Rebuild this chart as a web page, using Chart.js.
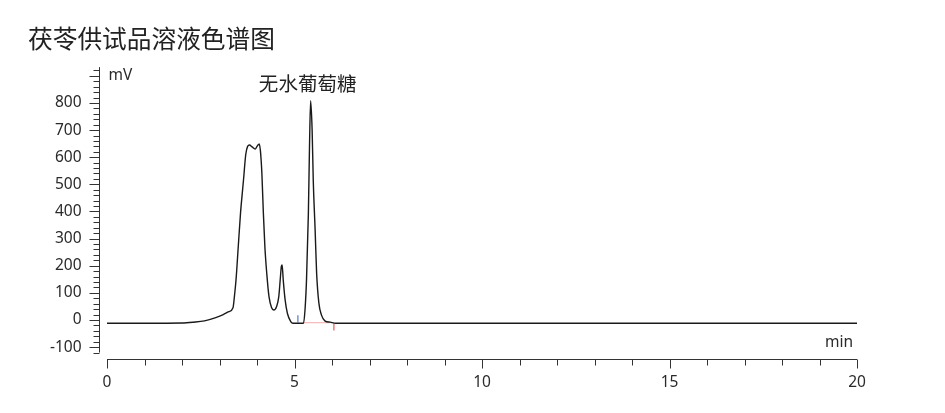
<!DOCTYPE html>
<html>
<head>
<meta charset="utf-8">
<script src="https://cdn.jsdelivr.net/npm/chart.js@4.4.0/dist/chart.umd.min.js"></script>
<style>
    html, body { margin: 0; padding: 0; background: #fff; }
</style>
</head>
<body>
<canvas id="myChart" width="945" height="413"></canvas>
<script>
// chromatogram trace (min, mV)
var retentionTimes = [0, 1.0, 2.0, 2.3, 2.6, 2.9, 3.1, 3.25, 3.36, 3.40, 3.44, 3.50, 3.56, 3.64, 3.70, 3.75, 3.80, 3.87, 3.95, 4.01, 4.06, 4.09, 4.11, 4.13, 4.17, 4.21, 4.26, 4.32, 4.39, 4.45, 4.52, 4.58, 4.62, 4.65, 4.67, 4.70, 4.75, 4.81, 4.90, 4.96, 5.10, 5.24, 5.28, 5.32, 5.37, 5.40, 5.43, 5.47, 5.50, 5.55, 5.59, 5.65, 5.72, 5.81, 5.95, 6.10, 10, 15, 20];
var signalMv = [-12, -12, -11, -8, -3, 9, 20, 31, 45, 90, 147, 270, 393, 516, 610, 640, 645, 638, 630, 642, 649, 625, 590, 541, 393, 270, 172, 86, 45, 37, 49, 85, 150, 198, 203, 147, 74, 25, -6, -12, -12, -12, 37, 147, 393, 639, 808, 700, 516, 332, 172, 62, 18, -3, -8, -12, -12, -12, -12];

// integration marks
var baselineTimes = [5.24, 5.95];
var baselineMv = [-10, -10];
var startMarkTime = 5.09;
var startMarkMv = [-9, 18];
var endMarkTime = 6.05;
var endMarkMv = [-12, -39];

var xTickValues = [0, 5, 10, 15, 20];
var xTickLabels = ['0', '5', '10', '15', '20'];
var yTickValues = [-100, 0, 100, 200, 300, 400, 500, 600, 700, 800];
var yTickLabels = ['-100', '0', '100', '200', '300', '400', '500', '600', '700', '800'];

var chartTitle = '茯苓供试品溶液色谱图';
var peakName = '无水葡萄糖';
var peakTime = 5.43;
var peakMv = 808;

var tracePoints = retentionTimes.map(function (t, i) { return { x: t, y: signalMv[i] }; });

var axesPlugin = {
    id: 'chromAxes',
    afterDraw: function (chart) {
        var ctx = chart.ctx, xs = chart.scales.x, ys = chart.scales.y;
        ctx.save();
        ctx.strokeStyle = '#333';
        ctx.fillStyle = '#2a2a2a';
        ctx.lineWidth = 1;

        // x axis
        var ay = Math.round(ys.getPixelForValue(ys.min)) + 0.5;
        ctx.beginPath();
        ctx.moveTo(xs.getPixelForValue(0), ay);
        ctx.lineTo(xs.getPixelForValue(20), ay);
        for (var i = 0; i <= 20; i++) {
            var px = Math.round(xs.getPixelForValue(i)) + 0.5;
            ctx.moveTo(px, ay);
            ctx.lineTo(px, ay + (i % 5 == 0 ? 9 : 6));
        }
        ctx.stroke();
        ctx.font = '15.5px "Noto Sans"';
        ctx.textAlign = 'center';
        ctx.textBaseline = 'middle';
        xTickValues.forEach(function (v, i) {
            ctx.fillText(xTickLabels[i], xs.getPixelForValue(v), ay + 23);
        });

        // y ruler, offset left of the plot
        var ax = Math.round(xs.left - 8) + 0.5;
        ctx.beginPath();
        ctx.moveTo(ax, ys.getPixelForValue(-120));
        ctx.lineTo(ax, ys.getPixelForValue(932));
        for (var v = -120; v <= 920; v += 20) {
            var py = Math.round(ys.getPixelForValue(v)) + 0.5;
            ctx.moveTo(ax, py);
            ctx.lineTo(ax - (v % 100 == 0 ? 10 : 6), py);
        }
        ctx.stroke();
        ctx.textAlign = 'right';
        yTickValues.forEach(function (v, i) {
            ctx.fillText(yTickLabels[i], ax - 18, ys.getPixelForValue(v));
        });

        // units
        ctx.textAlign = 'left';
        ctx.fillText('mV', ax + 9, ys.getPixelForValue(902));
        ctx.textAlign = 'right';
        ctx.fillText('min', xs.getPixelForValue(20) - 4, ay - 17);

        // peak name
        ctx.fillStyle = '#222';
        ctx.font = '19.5px "Noto Sans CJK SC"';
        ctx.textAlign = 'center';
        ctx.fillText(peakName, xs.getPixelForValue(peakTime) - 3, ys.getPixelForValue(peakMv) - 17);

        // title
        ctx.font = '24.7px "Noto Sans CJK SC"';
        ctx.textAlign = 'left';
        ctx.fillText(chartTitle, 28, 39);
        ctx.restore();
    }
};

var ctx = document.getElementById('myChart').getContext('2d');
var myChart = new Chart(ctx, {
    type: 'line',
    data: {
        datasets: [{
            data: tracePoints,
            borderColor: '#1a1a1a',
            borderWidth: 1.4,
            pointRadius: 0,
            cubicInterpolationMode: 'monotone'
        },
        {
            data: baselineTimes.map(function (t, i) { return { x: t, y: baselineMv[i] }; }),
            borderColor: '#f4a9a9',
            borderWidth: 1,
            pointRadius: 0
        },
        {
            data: startMarkMv.map(function (m) { return { x: startMarkTime, y: m }; }),
            borderColor: '#7a93d6',
            borderWidth: 1.5,
            pointRadius: 0
        },
        {
            data: endMarkMv.map(function (m) { return { x: endMarkTime, y: m }; }),
            borderColor: '#f07c7c',
            borderWidth: 1.5,
            pointRadius: 0
        }]
    },
    options: {
        responsive: false,
        animation: false,
        devicePixelRatio: 1,
        layout: { padding: { left: 107, right: 88, top: 67, bottom: 54 } },
        plugins: { legend: { display: false }, tooltip: { enabled: false } },
        scales: {
            x: { type: 'linear', min: 0, max: 20, display: false },
            y: { type: 'linear', min: -143.7, max: 932.5, display: false }
        }
    },
    plugins: [axesPlugin]
});
</script>
</body>
</html>
